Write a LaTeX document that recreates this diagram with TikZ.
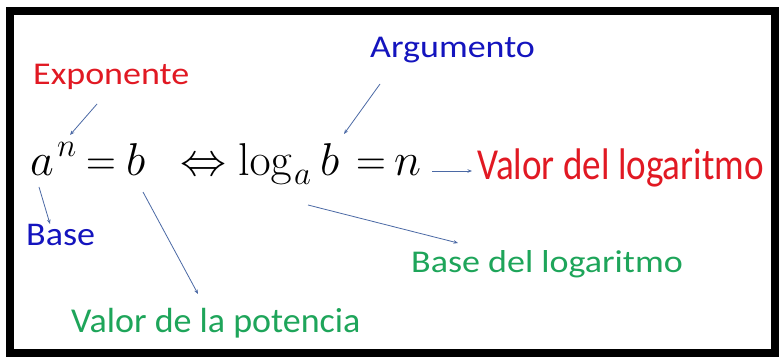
\documentclass[tikz,border=0pt]{standalone}
\usepackage[no-math]{fontspec}
\setmainfont{Carlito}
\usetikzlibrary{arrows.meta}
\definecolor{lred}{RGB}{225,25,35}
\definecolor{lblue}{RGB}{20,20,190}
\definecolor{lgreen}{RGB}{30,165,90}
\definecolor{arr}{RGB}{75,105,165}
\newcommand{\mathbigpiece}[1]{\scalebox{1.85}{\Huge$#1$}}
\newcommand{\mathsmallpiece}[1]{\scalebox{1.32}{\Huge$#1$}}
\newcommand{\mathnarrowpiece}[1]{\scalebox{1.66}[1.85]{\Huge$#1$}}
\begin{document}
\begin{tikzpicture}[x=1pt,y=-1pt,
  lbl/.style={inner sep=0pt, anchor=base west, font=\fontsize{36}{40}\selectfont},
  mth/.style={inner sep=0pt, anchor=base west},
  conn/.style={arr, line width=0.8pt, -{Stealth[length=4.5pt,width=3.5pt]}}]
\useasboundingbox (0,0) rectangle (779,358);
\fill[white] (0,0) rectangle (779,358);
\draw[line width=8pt] (10,11) rectangle (775,353);
% labels
\node[lbl, text=lred] (expo) at (33,85) {\scalebox{1}[0.88]{Exponente}};
\node[lbl, text=lblue] (argu) at (370,58) {\scalebox{1}[0.88]{Argumento}};
\node[lbl, text=lred] (vlog) at (477,180) {\scalebox{1.03}[1.23]{Valor del logaritmo}};
\node[lbl, text=lblue] (base) at (26,246) {\scalebox{1}[0.92]{Base}};
\node[lbl, text=lgreen] (blog) at (411,272) {\scalebox{1}[0.88]{Base del logaritmo}};
\node[lbl, text=lgreen] (vpot) at (71,332) {\scalebox{1}[0.97]{Valor de la potencia}};
% formula
\node[mth] (ma) at (30,176) {\mathbigpiece{a}};
\node[mth] (mn) at (57,157) {\mathsmallpiece{n}};
\node[mth] (meqa) at (86,176) {\mathnarrowpiece{=}};
\node[mth] (mb) at (126,176) {\mathbigpiece{b}};
\node[mth] (miff) at (180,176) {\mathbigpiece{\Leftrightarrow}};
\node[mth] (mlog) at (238,176) {\mathbigpiece{\log}};
\node[mth] (msub) at (294,185) {\mathsmallpiece{a}};
\node[mth] (mbb) at (320,176) {\mathbigpiece{b}};
\node[mth] (meqb) at (356,176) {\mathnarrowpiece{=}};
\node[mth] (mnn) at (394,176) {\mathbigpiece{n}};
% connectors
\coordinate (e1) at (97,104);  \coordinate (e2) at (70,135);
\coordinate (a1) at (380,84);  \coordinate (a2) at (344,134);
\coordinate (b1) at (39,187);  \coordinate (b2) at (50,224);
\coordinate (p1) at (143,192); \coordinate (p2) at (198,294);
\coordinate (l1) at (308,205); \coordinate (l2) at (458,243);
\coordinate (n1) at (432,171); \coordinate (n2) at (472,171);
\draw[conn] (e1) -- (e2);
\draw[conn] (a1) -- (a2);
\draw[conn] (b1) -- (b2);
\draw[conn] (p1) -- (p2);
\draw[conn] (l1) -- (l2);
\draw[conn] (n1) -- (n2);
\end{tikzpicture}
\end{document}
